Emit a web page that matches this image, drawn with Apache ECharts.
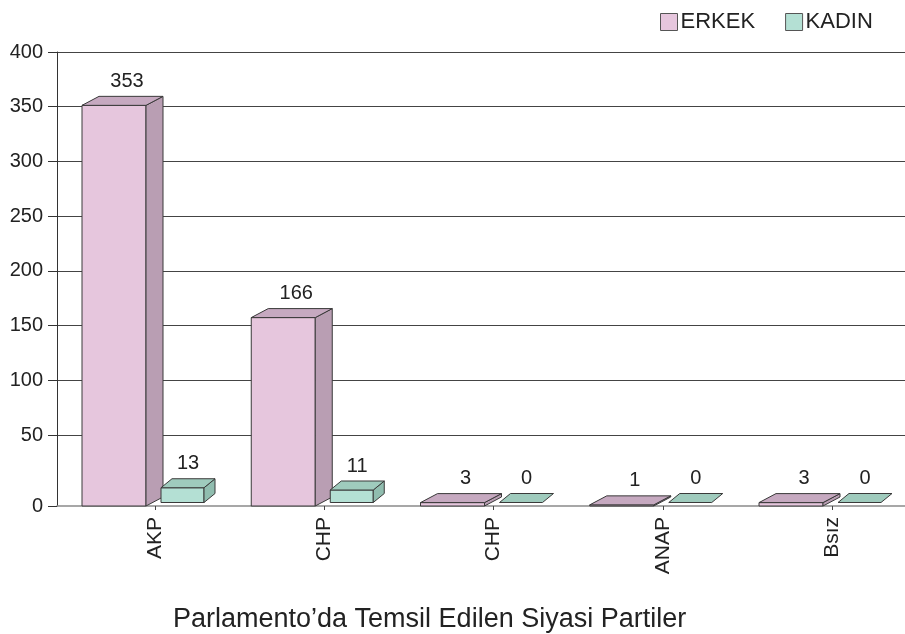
<!DOCTYPE html>
<html>
<head>
<meta charset="utf-8">
<script src="https://cdn.jsdelivr.net/npm/echarts@6/dist/echarts.min.js"></script>
<style>
  html, body { margin: 0; padding: 0; background: #fff; }
  #chart { width: 905px; height: 634px; }
</style>
</head>
<body>
<div id="chart"></div>
<script>
const categories = ["AKP", "CHP", "CHP", "ANAP", "Bsız"];
const erkek = [353, 166, 3, 1, 3];
const kadin = [13, 11, 0, 0, 0];
const wallTicks = [50, 400, 50]; // min, max, step of the back wall axis

const FONT = "'Liberation Sans', Arial, sans-serif";

// box look for each series
const boxes = {
  ERKEK: { off: -73, w: 64, dx: 17, dy: 9, lift: 0, labelX: 45,
           front: "#e6c6dd", top: "#c6a9c0", side: "#b99eb3" },
  KADIN: { off: 6, w: 43, dx: 11, dy: 9, lift: 3.5, labelX: 27,
           front: "#b4e0d4", top: "#9fcbbd", side: "#90bdaf" }
};

function renderBox(name) {
  const b = boxes[name];
  return function (params, api) {
    const idx = api.value(0);
    const val = api.value(1);
    const base = api.coord([idx, 0]);
    const top = api.coord([idx, val]);
    const x0 = base[0] + b.off;
    const y0 = base[1] - b.lift;
    const y1 = top[1] - b.lift;
    const line = { stroke: "#3a3a3a", lineWidth: 1 };
    const kids = [];
    if (y0 - y1 > 0.5) {
      kids.push({ type: "rect", shape: { x: x0, y: y1, width: b.w, height: y0 - y1 },
                  style: Object.assign({ fill: b.front }, line) });
      kids.push({ type: "polygon", shape: { points: [[x0 + b.w, y1], [x0 + b.w + b.dx, y1 - b.dy],
                  [x0 + b.w + b.dx, y0 - b.dy], [x0 + b.w, y0]] },
                  style: Object.assign({ fill: b.side }, line) });
    }
    kids.push({ type: "polygon", shape: { points: [[x0, y1], [x0 + b.w, y1],
                [x0 + b.w + b.dx, y1 - b.dy], [x0 + b.dx, y1 - b.dy]] },
                style: Object.assign({ fill: b.top }, line) });
    kids.push({ type: "text", style: { text: String(val), x: x0 + b.labelX, y: y1 - b.dy - 15,
                align: "center", verticalAlign: "middle", fill: "#222", font: "20px " + FONT } });
    return { type: "group", children: kids };
  };
}

const chart = echarts.init(document.getElementById("chart"), null, { renderer: "canvas" });

chart.setOption({
  animation: false,
  backgroundColor: "#fff",
  title: {
    text: "Parlamento’da Temsil Edilen Siyasi Partiler",
    left: 168, top: 601,
    textStyle: { fontFamily: FONT, fontSize: 27, fontWeight: "normal", color: "#222" }
  },
  legend: {
    data: ["ERKEK", "KADIN"],
    left: 655, top: 6,
    icon: "rect", itemWidth: 17, itemHeight: 17, itemGap: 30,
    textStyle: { fontFamily: FONT, fontSize: 22, color: "#222", padding: [0, 0, 0, -2] },
    itemStyle: { borderColor: "#555", borderWidth: 1 }
  },
  grid: [
    { left: 57, right: 0, top: 52, bottom: 128 },   // front plane: floor line, "0"
    { left: 57, right: 0, top: 52, bottom: 199 },   // back wall: gridlines 50..400
    { left: 155, right: 73, top: 52, bottom: 128 }  // category ticks and boxes
  ],
  xAxis: [
    { gridIndex: 0, type: "category", data: categories,
      axisLine: { show: true, lineStyle: { color: "#8a8a8a", width: 1.5 } },
      axisTick: { show: false }, axisLabel: { show: false } },
    { gridIndex: 1, type: "value", show: false },
    { gridIndex: 2, type: "category", data: categories, boundaryGap: false,
      axisLine: { show: false },
      axisTick: { show: true, length: 4, lineStyle: { color: "#444" } },
      axisLabel: { rotate: 90, margin: 11, fontFamily: FONT, fontSize: 21, color: "#222" } }
  ],
  yAxis: [
    { gridIndex: 0, type: "value", min: 0, max: 400, interval: 400,
      axisLine: { show: true, lineStyle: { color: "#333" } },
      axisTick: { show: true, length: 9, lineStyle: { color: "#333" } },
      axisLabel: { showMaxLabel: false, margin: 14, fontFamily: FONT, fontSize: 20, color: "#222" },
      splitLine: { show: false } },
    { gridIndex: 1, type: "value", min: wallTicks[0], max: wallTicks[1], interval: wallTicks[2],
      axisLine: { show: false },
      axisTick: { show: true, length: 9, lineStyle: { color: "#333" } },
      axisLabel: { margin: 14, fontFamily: FONT, fontSize: 20, color: "#222" },
      splitLine: { show: true, lineStyle: { color: "#444", width: 1 } } },
    { gridIndex: 2, type: "value", min: 0, max: 400, show: false }
  ],
  series: [
    { name: "ERKEK", type: "custom", xAxisIndex: 2, yAxisIndex: 2,
      itemStyle: { color: boxes.ERKEK.front },
      renderItem: renderBox("ERKEK"),
      data: erkek.map((v, i) => [i, v]) },
    { name: "KADIN", type: "custom", xAxisIndex: 2, yAxisIndex: 2,
      itemStyle: { color: boxes.KADIN.front },
      renderItem: renderBox("KADIN"),
      data: kadin.map((v, i) => [i, v]) }
  ]
});
</script>
</body>
</html>
